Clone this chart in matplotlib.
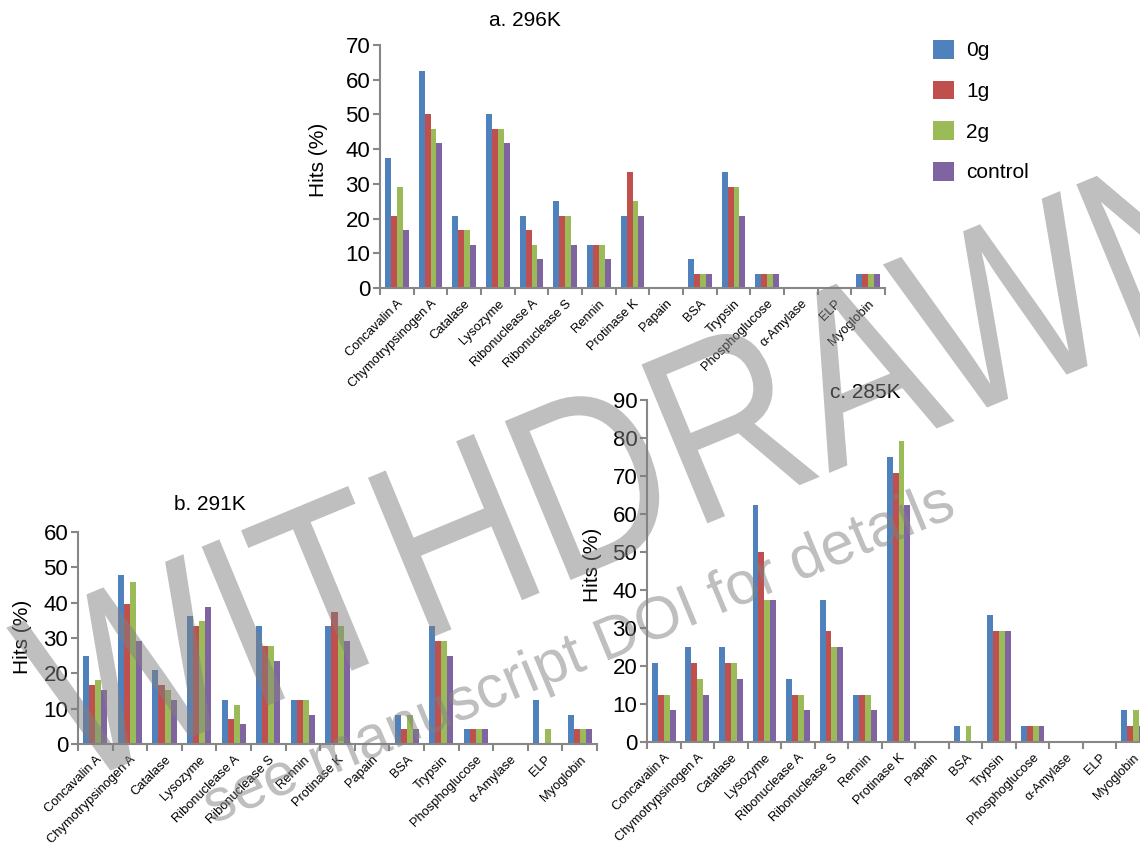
import numpy as np
import matplotlib
matplotlib.use('Agg')
import matplotlib.pyplot as plt
from matplotlib.patches import Patch, PathPatch
from matplotlib.textpath import TextPath
from matplotlib.font_manager import FontProperties
from matplotlib.transforms import Affine2D

plt.rcParams['font.family'] = ['Liberation Sans', 'DejaVu Sans']

proteins = ['Concavalin A', 'Chymotrypsinogen A', 'Catalase', 'Lysozyme',
            'Ribonuclease A', 'Ribonuclease S', 'Rennin', 'Protinase K',
            'Papain', 'BSA', 'Trypsin', 'Phosphoglucose', 'α-Amylase',
            'ELP', 'Myoglobin']
groups = ['0g', '1g', '2g', 'control']

# a. 296K
a_0g = [37.5, 62.5, 20.83, 50, 20.83, 25, 12.5, 20.83, 0, 8.33, 33.33, 4.17, 0, 0, 4.17]
a_1g = [20.83, 50, 16.67, 45.83, 16.67, 20.83, 12.5, 33.33, 0, 4.17, 29.17, 4.17, 0, 0, 4.17]
a_2g = [29.17, 45.83, 16.67, 45.83, 12.5, 20.83, 12.5, 25, 0, 4.17, 29.17, 4.17, 0, 0, 4.17]
a_ctrl = [16.67, 41.67, 12.5, 41.67, 8.33, 12.5, 8.33, 20.83, 0, 4.17, 20.83, 4.17, 0, 0, 4.17]

# b. 291K
b_0g = [25, 47.92, 20.83, 36.11, 12.5, 33.33, 12.5, 33.33, 0, 8.33, 33.33, 4.17, 0, 12.5, 8.33]
b_1g = [16.67, 39.58, 16.67, 33.33, 6.94, 27.78, 12.5, 37.5, 0, 4.17, 29.17, 4.17, 0, 0, 4.17]
b_2g = [18.06, 45.83, 15.28, 34.72, 11.11, 27.78, 12.5, 33.33, 0, 8.33, 29.17, 4.17, 0, 4.17, 4.17]
b_ctrl = [15.28, 29.17, 12.5, 38.89, 5.56, 23.61, 8.33, 29.17, 0, 4.17, 25, 4.17, 0, 0, 4.17]

# c. 285K
c_0g = [20.83, 25, 25, 62.5, 16.67, 37.5, 12.5, 75, 0, 4.17, 33.33, 4.17, 0, 0, 8.33]
c_1g = [12.5, 20.83, 20.83, 50, 12.5, 29.17, 12.5, 70.83, 0, 0, 29.17, 4.17, 0, 0, 4.17]
c_2g = [12.5, 16.67, 20.83, 37.5, 12.5, 25, 12.5, 79.17, 0, 4.17, 29.17, 4.17, 0, 0, 8.33]
c_ctrl = [8.33, 12.5, 16.67, 37.5, 8.33, 25, 8.33, 62.5, 0, 0, 29.17, 4.17, 0, 0, 4.17]

colors = ['#4F81BD', '#C0504D', '#9BBB59', '#8064A2']
axis_grey = '#878787'

W, H = 1140, 844
fig = plt.figure(figsize=(W / 100, H / 100), dpi=100)


def px_axes(left, top, right, bottom):
    # axes placed by pixel edges, y counted from the top
    return fig.add_axes([left / W, 1 - bottom / H, (right - left) / W, (bottom - top) / H])


def panel(ax, series, ymax):
    n = len(proteins)
    x = np.arange(n) + 0.5
    bw = 0.176
    for k, vals in enumerate(series):
        ax.bar(x + (k - 1.5) * bw, vals, width=bw, color=colors[k],
               edgecolor='none')
    ax.set_xlim(0, n)
    ax.set_ylim(0, ymax)
    ax.set_yticks(np.arange(0, ymax + 1, 10))
    ax.set_xticks(np.arange(n + 1))
    ax.set_xticklabels([])
    ax.set_xticks(x, minor=True)
    ax.set_xticklabels(proteins, minor=True, rotation=45, ha='right',
                       va='top', rotation_mode='anchor', fontsize=9.3)
    ax.tick_params(axis='x', which='minor', length=0, pad=7)
    ax.tick_params(axis='x', which='major', length=5, width=1.5,
                   color=axis_grey, direction='out')
    ax.tick_params(axis='y', length=5, width=1.5, color=axis_grey,
                   labelsize=16, pad=2)
    for s in ['top', 'right']:
        ax.spines[s].set_visible(False)
    for s in ['left', 'bottom']:
        ax.spines[s].set_color(axis_grey)
        ax.spines[s].set_linewidth(1.5)


def stamp(text, x, y, em_w, em_h, angle):
    # text outline centred on its baseline at pixel (x, y from top),
    # em_w / em_h give the horizontal and vertical glyph scale in pixels
    tp = TextPath((0, 0), text, size=1,
                  prop=FontProperties(family='Liberation Sans'))
    ext = tp.get_extents()
    tr = (Affine2D()
          .translate(-(ext.x0 + ext.x1) / 2, 0)
          .scale(em_w, em_h)
          .rotate_deg(angle)
          .translate(x, H - y)
          .scale(1 / 100))
    patch = PathPatch(tp, transform=tr + fig.dpi_scale_trans,
                      facecolor='#808080', edgecolor='none', alpha=0.5,
                      zorder=10)
    fig.add_artist(patch)


ax_a = px_axes(380, 45, 885, 288)
panel(ax_a, [a_0g, a_1g, a_2g, a_ctrl], 70)
ax_b = px_axes(78, 532, 597, 744)
panel(ax_b, [b_0g, b_1g, b_2g, b_ctrl], 60)
ax_c = px_axes(647, 400, 1150, 742)
panel(ax_c, [c_0g, c_1g, c_2g, c_ctrl], 90)

# panel titles and y labels
fig.text(525 / W, 1 - 20 / H, 'a. 296K', fontsize=15, ha='center', va='center')
fig.text(210 / W, 1 - 505 / H, 'b. 291K', fontsize=15, ha='center', va='center')
fig.text(865 / W, 1 - 393 / H, 'c. 285K', fontsize=15, ha='center', va='center')
fig.text(318 / W, 1 - 160 / H, 'Hits (%)', fontsize=15, rotation=90, ha='center', va='center')
fig.text(22 / W, 1 - 637 / H, 'Hits (%)', fontsize=15, rotation=90, ha='center', va='center')
fig.text(593 / W, 1 - 565 / H, 'Hits (%)', fontsize=15, rotation=90, ha='center', va='center')

handles = [Patch(facecolor=c, edgecolor='none') for c in colors]
fig.legend(handles, groups, loc='upper left', bbox_to_anchor=(933 / W, 1 - 40 / H),
           frameon=False, fontsize=15, handlelength=1.0, handleheight=1.0,
           handletextpad=0.6, labelspacing=0.97, borderpad=0, borderaxespad=0)

# withdrawal stamp across the figure
stamp('WITHDRAWN', 660, 543, 205, 250, 22.5)
stamp('see manuscript DOI for details', 585, 670, 60, 60, 22.5)

fig.savefig('out.png', dpi=100)
